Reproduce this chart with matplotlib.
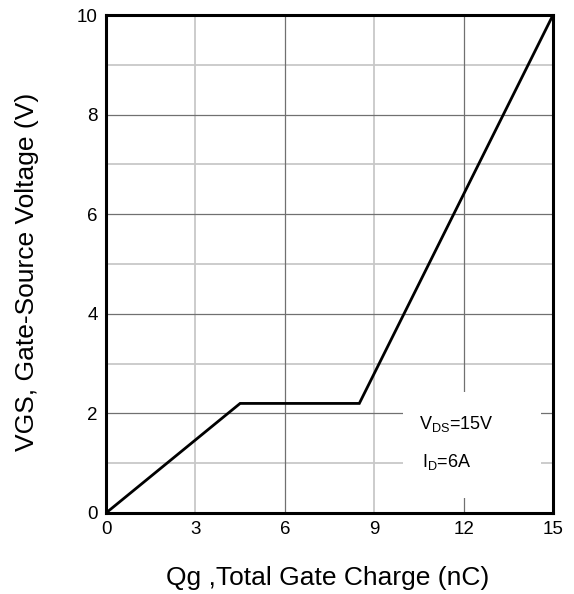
import matplotlib.pyplot as plt
import matplotlib.patches as patches

plt.rcParams["font.family"] = ["Liberation Sans", "DejaVu Sans"]

# gate charge curve
qg = [0, 4.5, 8.5, 15]
vgs = [0, 2.2, 2.2, 10]

x_ticks = [0, 3, 6, 9, 12, 15]
y_ticks = [0, 2, 4, 6, 8, 10]
x_dark = [6, 12]
x_light = [3, 9]
y_dark = [2, 4, 6, 8]
y_light = [1, 3, 5, 7, 9]

fig = plt.figure(figsize=(5.74, 5.94), dpi=100)
ax = fig.add_axes([0.1847, 0.1364, 0.7787, 0.8383])

for y in y_light:
    ax.axhline(y, color="#c8c8c8", lw=1.3, zorder=1)
for x in x_light:
    ax.axvline(x, color="#c8c8c8", lw=1.3, zorder=1)
for y in y_dark:
    ax.axhline(y, color="#707070", lw=0.9, zorder=1)
for x in x_dark:
    ax.axvline(x, color="#707070", lw=0.9, zorder=1)

# white box behind the annotation
ax.add_patch(patches.Rectangle((9.97, 0.3), 4.63, 2.13, facecolor="white",
                               edgecolor="none", zorder=2))

ax.plot(qg, vgs, color="black", lw=2.0, zorder=3, solid_joinstyle="miter")

ax.text(10.5, 1.78, r"V$_{\mathregular{DS}}$=15V", fontsize=13, zorder=4, va="center")
ax.text(10.6, 1.02, r"I$_{\mathregular{D}}$=6A", fontsize=13, zorder=4, va="center")

ax.set_xlim(0, 15)
ax.set_ylim(0, 10)
ax.set_xticks(x_ticks)
ax.set_yticks(y_ticks)
ax.tick_params(length=0, labelsize=13.5)
ax.tick_params(axis="x", pad=6)
ax.tick_params(axis="y", pad=6)
for s in ax.spines.values():
    s.set_linewidth(2.2)
    s.set_zorder(5)

fig.text(0.5706, 0.027, "Qg ,Total Gate Charge (nC)", fontsize=19, ha="center", va="center")
fig.text(0.047, 0.543, "VGS, Gate-Source Voltage (V)", fontsize=19, ha="center",
         va="center", rotation=90)

fig.savefig("out.png", dpi=100)
